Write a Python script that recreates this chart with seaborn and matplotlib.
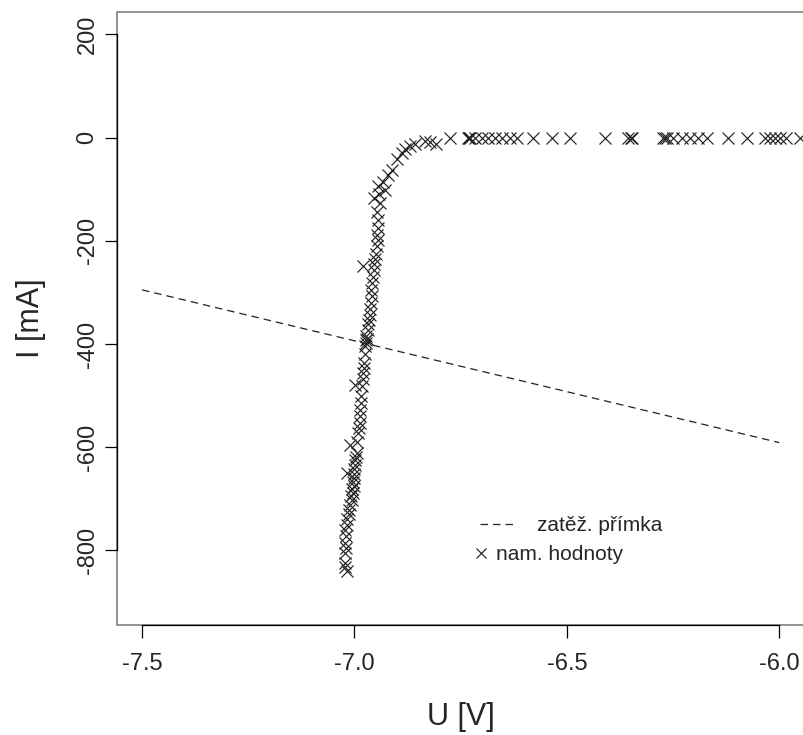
import numpy as np
import pandas as pd
import matplotlib
matplotlib.use('Agg')
import matplotlib.pyplot as plt
from matplotlib.lines import Line2D
import seaborn as sns

# --- measured points (U [V], I [mA]) ---
u_steep = [-7.018, -7.022, -7.022, -7.022, -7.020, -7.022, -7.020, -7.022, -7.018, -7.018,
           -7.014, -7.014, -7.010, -7.006, -7.008, -7.004, -7.006, -7.002, -7.004, -7.000,
           -7.018, -7.002, -7.000, -6.998, -6.998, -6.996, -6.994, -7.010, -6.993, -6.991,
           -6.989, -6.987, -6.988, -6.986, -6.985, -6.984, -6.983, -6.998, -6.981, -6.979,
           -6.978, -6.977, -6.976, -6.975, -6.973, -6.974, -6.971, -6.972, -6.969, -6.968,
           -6.965, -6.964, -6.963, -6.962, -6.959, -6.960, -6.959, -6.957, -6.955, -6.979,
           -6.953, -6.951, -6.950, -6.947, -6.944, -6.946, -6.945, -6.944, -6.947, -6.940,
           -6.955, -6.943, -6.928, -6.944, -6.932, -6.920, -6.912, -6.900, -6.889, -6.881,
           -6.869, -6.857, -6.834, -6.823, -6.808]
i_steep = [-840, -832, -824, -805, -795, -785, -772, -760, -750, -740,
           -730, -721, -712, -702, -695, -688, -680, -676, -668, -660,
           -650, -652, -643, -635, -625, -618, -611, -595, -590, -572,
           -562, -553, -540, -527, -514, -500, -482, -479, -468, -456,
           -446, -437, -420, -404, -397, -392, -391, -385, -372, -362,
           -353, -343, -333, -320, -307, -295, -282, -270, -256, -249,
           -245, -236, -225, -210, -198, -188, -175, -159, -145, -126,
           -117, -110, -101, -94, -85, -72, -62, -41, -30, -22,
           -15.5, -11.6, -6, -9, -11.6]
u_flat = [-6.775, -6.732, -6.730, -6.728, -6.716, -6.699, -6.685, -6.669, -6.652, -6.634,
          -6.617, -6.579, -6.535, -6.492, -6.410, -6.355, -6.350, -6.346, -6.273, -6.269,
          -6.265, -6.250, -6.229, -6.210, -6.191, -6.170, -6.120, -6.075, -6.033, -6.021,
          -6.010, -5.998, -5.985, -5.951]
i_flat = [0] * len(u_flat)

# --- load line endpoints ---
u_load = [-7.5, -6.0]
i_load = [-295, -591]

meas = pd.DataFrame({'U': u_steep + u_flat, 'I': i_steep + i_flat})
load = pd.DataFrame({'U': u_load, 'I': i_load})

sns.set_style('white')
plt.rcParams['font.family'] = ['Liberation Sans', 'DejaVu Sans']

dash = (0, (6, 4))

fig = plt.figure(figsize=(8.04, 7.35), dpi=100)
ax = fig.add_axes([0.145, 0.150, 0.856, 0.834])

sns.lineplot(data=load, x='U', y='I', ax=ax, color='#222222', lw=0.9,
             dashes=False, linestyle=dash)
sns.scatterplot(data=meas, x='U', y='I', ax=ax, marker='x', s=75,
                color='#222222', linewidth=0.85)

ax.set_xlim(-7.56, -5.94)
ax.set_ylim(-944, 244)
ax.set_xticks([-7.5, -7.0, -6.5, -6.0])
ax.set_xticklabels(['-7.5', '-7.0', '-6.5', '-6.0'])
ax.set_yticks([-800, -600, -400, -200, 0, 200])
ax.set_yticklabels(['-800', '-600', '-400', '-200', '0', '200'], rotation=90, va='center')
ax.tick_params(axis='both', direction='out', length=9, width=0.9, color='black',
               labelsize=17, bottom=True, left=True)
ax.tick_params(axis='x', pad=11)
ax.tick_params(axis='y', pad=4)
ax.set_xlabel('U [V]', fontsize=22, labelpad=20)
ax.set_ylabel('I [mA]', fontsize=22, labelpad=22)

# grey frame, black axis lines spanning the ticks (R style)
ax.patch.set_edgecolor('#808080')
ax.patch.set_linewidth(1.2)
for side in ['top', 'right']:
    ax.spines[side].set_visible(False)
ax.spines['left'].set_bounds(-800, 200)
ax.spines['bottom'].set_bounds(-7.5, -6.0)
for side in ['left', 'bottom']:
    ax.spines[side].set_color('black')
    ax.spines[side].set_linewidth(0.9)

h_line = Line2D([], [], color='#222222', lw=0.9, linestyle=dash)
h_pts = Line2D([], [], color='#222222', marker='x', ms=7, mew=0.85, linestyle='none')
leg1 = ax.legend([h_line], ['zatěž. přímka'], loc='upper left', bbox_to_anchor=(0.528, 0.177),
                 frameon=False, fontsize=15, handlelength=1.7, handletextpad=1.05,
                 borderpad=0, borderaxespad=0)
ax.add_artist(leg1)
ax.legend([h_pts], ['nam. hodnoty'], loc='upper left', bbox_to_anchor=(0.514, 0.130),
          frameon=False, fontsize=15, handlelength=1.0, handletextpad=0.25,
          borderpad=0, borderaxespad=0)

fig.savefig('out.png', dpi=100)
